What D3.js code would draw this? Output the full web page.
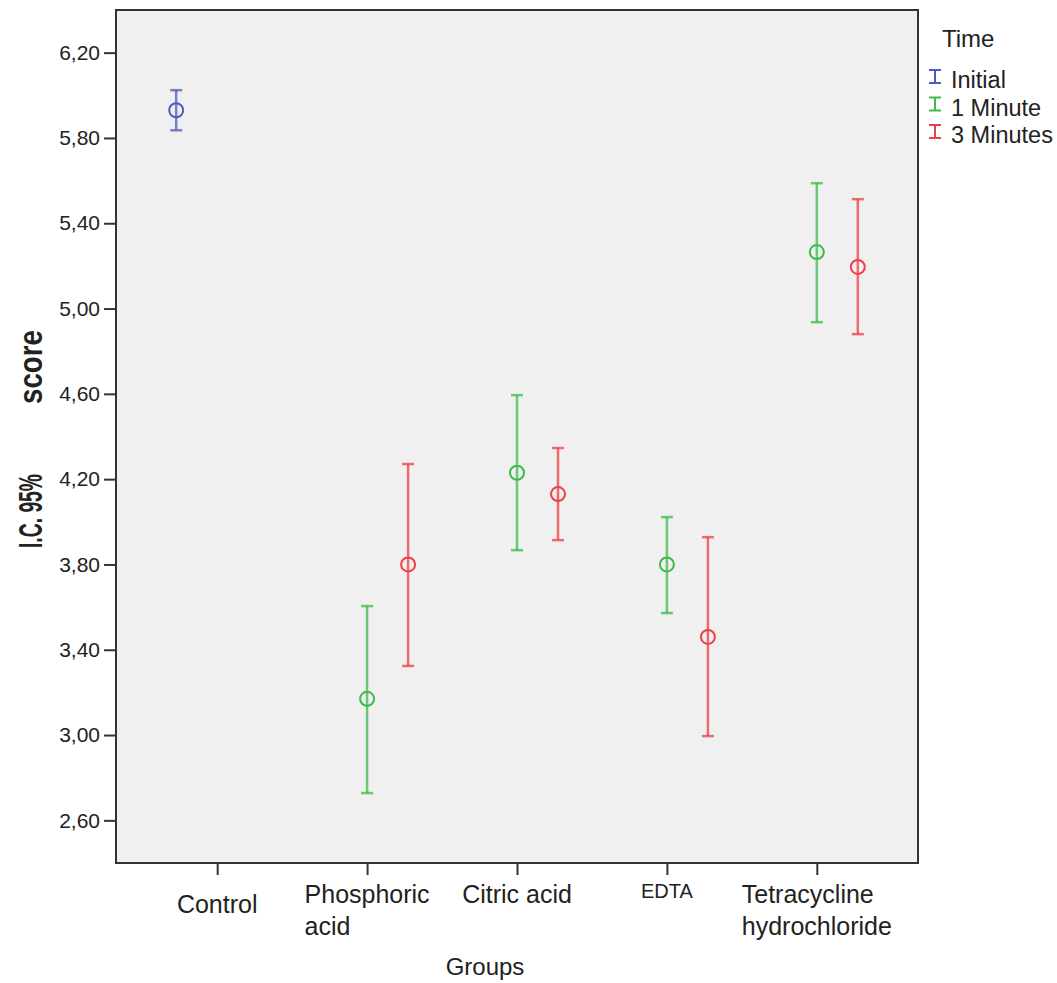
<!DOCTYPE html>
<html lang="en">
<head>
<meta charset="UTF-8">
<title>Error bar chart</title>
<script src="https://d3js.org/d3.v7.min.js"></script>
<style>
    body { margin: 0; background: #fff; }
    text { font-family: Arial, "Liberation Sans", sans-serif; fill: #222; }
</style>
</head>
<body>
<script>
    // data
    const groups = ["Control", "Phosphoric acid", "Citric acid", "EDTA", "Tetracycline hydrochloride"];
    const groupLines = [["Control"], ["Phosphoric", "acid"], ["Citric acid"], ["EDTA"], ["Tetracycline", "hydrochloride"]];
    const times = ["Initial", "1 Minute", "3 Minutes"];
    const colors = ["#4a5cc0", "#3cbb4a", "#ee3e46"];
    const yTicks = [2.6, 3.0, 3.4, 3.8, 4.2, 4.6, 5.0, 5.4, 5.8, 6.2];

    const pointGroup = ["Control", "Phosphoric acid", "Phosphoric acid", "Citric acid", "Citric acid", "EDTA", "EDTA", "Tetracycline hydrochloride", "Tetracycline hydrochloride"];
    const pointTime  = ["Initial", "1 Minute", "3 Minutes", "1 Minute", "3 Minutes", "1 Minute", "3 Minutes", "1 Minute", "3 Minutes"];
    const means = [5.93, 3.17, 3.80, 4.23, 4.13, 3.80, 3.46, 5.265, 5.195];
    const lower = [5.836, 2.728, 3.324, 3.867, 3.914, 3.572, 2.995, 4.936, 4.880];
    const upper = [6.024, 3.605, 4.271, 4.594, 4.346, 4.022, 3.928, 5.588, 5.513];

    const data = means.map((m, i) => ({group: pointGroup[i], time: pointTime[i], mean: m, lo: lower[i], hi: upper[i]}));

    const W = 1057, H = 983;
    const plot = {left: 116, top: 10, right: 918, bottom: 863};

    const svg = d3.select("body").append("svg")
        .attr("width", W)
        .attr("height", H);

    const x = d3.scalePoint()
        .domain(groups)
        .range([plot.left, plot.right])
        .padding(0.675);

    const offset = d3.scalePoint()
        .domain(times)
        .range([-41, 41]);

    const y = d3.scaleLinear()
        .domain([2.4, 6.4])
        .range([plot.bottom, plot.top]);

    const color = d3.scaleOrdinal().domain(times).range(colors);

    // plot background
    svg.append("rect")
        .attr("x", plot.left)
        .attr("y", plot.top)
        .attr("width", plot.right - plot.left)
        .attr("height", plot.bottom - plot.top)
        .attr("fill", "#f0f0f0")
        .attr("stroke", "#333")
        .attr("stroke-width", 2);

    // y axis
    const yAxis = svg.append("g")
        .attr("transform", `translate(${plot.left},0)`)
        .call(d3.axisLeft(y).tickValues(yTicks).tickSize(12).tickPadding(4)
            .tickFormat(d => d3.format(".2f")(d).replace(".", ",")));
    yAxis.select(".domain").remove();
    yAxis.selectAll(".tick line").attr("stroke", "#333").attr("stroke-width", 2);
    yAxis.selectAll("text")
        .style("font-size", "21px")
        .attr("fill", "#333");

    // x axis ticks
    const xAxis = svg.append("g")
        .attr("transform", `translate(0,${plot.bottom})`)
        .call(d3.axisBottom(x).tickSize(12).tickFormat(""));
    xAxis.select(".domain").remove();
    xAxis.selectAll(".tick line").attr("stroke", "#333").attr("stroke-width", 2);

    // x labels, lines left aligned, block centered on tick
    groups.forEach((g, i) => {
        const small = g === "EDTA";
        const base = g === "Control" ? 913 : (small ? 898 : 903);
        const t = svg.append("text")
            .style("font-size", small ? "20px" : "25px");
        groupLines[i].forEach((ln, j) => {
            t.append("tspan").attr("y", base + j * 32).text(ln);
        });
        let maxW = 0;
        t.selectAll("tspan").each(function () {
            maxW = Math.max(maxW, this.getComputedTextLength());
        });
        t.selectAll("tspan").attr("x", x(g) - maxW / 2);
    });

    // axis titles
    svg.append("text")
        .attr("x", (plot.left + plot.right) / 2 - 32)
        .attr("y", 975)
        .attr("text-anchor", "middle")
        .style("font-size", "24px")
        .text("Groups");

    const yTitle = svg.append("text")
        .attr("transform", "translate(42,0) rotate(-90)")
        .style("font-size", "34px")
        .style("font-weight", "bold");
    yTitle.append("tspan")
        .attr("x", -548).attr("textLength", 74).attr("lengthAdjust", "spacingAndGlyphs")
        .text("I.C. 95%");
    yTitle.append("tspan")
        .attr("x", -404).attr("textLength", 74).attr("lengthAdjust", "spacingAndGlyphs")
        .text("score");

    // error bars
    const cap = 6;
    const bars = svg.append("g").selectAll("g")
        .data(data)
        .enter().append("g")
        .attr("stroke", d => color(d.time))
        .attr("fill", "none")
        .attr("transform", d => `translate(${x(d.group) + offset(d.time)},0)`);

    bars.append("line")
        .attr("y1", d => y(d.hi))
        .attr("y2", d => y(d.lo))
        .attr("stroke-width", 2.5)
        .attr("stroke-opacity", 0.75);
    bars.append("line")
        .attr("x1", -cap).attr("x2", cap)
        .attr("y1", d => y(d.hi)).attr("y2", d => y(d.hi))
        .attr("stroke-width", 2.5)
        .attr("stroke-opacity", 0.75);
    bars.append("line")
        .attr("x1", -cap).attr("x2", cap)
        .attr("y1", d => y(d.lo)).attr("y2", d => y(d.lo))
        .attr("stroke-width", 2.5)
        .attr("stroke-opacity", 0.75);
    bars.append("circle")
        .attr("cy", d => y(d.mean))
        .attr("r", 7)
        .attr("fill", "none")
        .attr("stroke-width", 2);

    // legend
    svg.append("text")
        .attr("x", 942)
        .attr("y", 47)
        .style("font-size", "24px")
        .text("Time");

    const legend = svg.append("g").selectAll("g")
        .data(times)
        .enter().append("g")
        .attr("transform", (d, i) => `translate(0,${88 + i * 27.5})`);
    legend.append("path")
        .attr("d", "M929,-18 H941 M935,-18 V-5 M929,-5 H941")
        .attr("stroke", d => color(d))
        .attr("stroke-width", 2)
        .attr("fill", "none");
    legend.append("text")
        .attr("x", 951)
        .style("font-size", "23.5px")
        .text(d => d);
</script>
</body>
</html>
